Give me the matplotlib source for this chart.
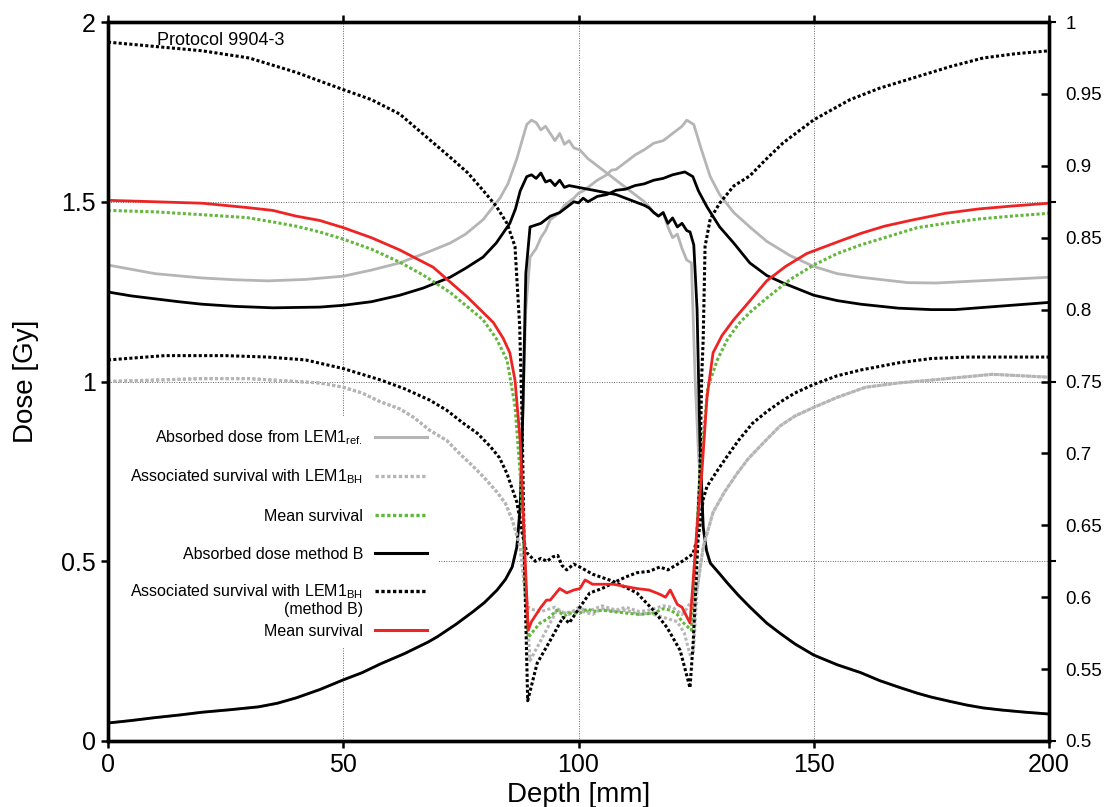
import matplotlib
matplotlib.use("Agg")
import matplotlib.pyplot as plt
from matplotlib.patches import Rectangle
from matplotlib.ticker import FixedLocator, FormatStrFormatter

plt.rcParams['font.family'] = ['Liberation Sans', 'DejaVu Sans']
plt.rcParams['mathtext.fontset'] = 'custom'
plt.rcParams['mathtext.rm'] = 'Liberation Sans'
plt.rcParams['mathtext.it'] = 'Liberation Sans:italic'

# --- absorbed dose (left axis, Gy) -------------------------------------
ref_a_x = [0, 10, 20, 27, 34, 42, 50, 56, 62, 68, 72.7, 76, 79.7, 83.3, 85, 86.9, 88, 89, 90, 91,
           92, 93, 94, 95, 96, 97, 98, 99, 100.3, 102, 104, 106, 108, 110, 112, 114, 115, 116, 117,
           118, 119, 120, 121, 122, 123, 124, 124.8, 125.5, 126.5, 127.2, 128, 130, 131.6, 134,
           136.4, 140, 142.8, 146, 150, 155, 160, 164, 168, 172, 175, 179, 182.5, 186, 190, 195,
           200]
ref_a_y = [1.324, 1.30, 1.288, 1.283, 1.28, 1.284, 1.293, 1.31, 1.33, 1.36, 1.385, 1.41, 1.45,
           1.51, 1.55, 1.62, 1.67, 1.715, 1.727, 1.72, 1.70, 1.71, 1.69, 1.67, 1.69, 1.66, 1.67,
           1.65, 1.644, 1.62, 1.60, 1.58, 1.56, 1.54, 1.52, 1.50, 1.486, 1.47, 1.46, 1.47, 1.43,
           1.40, 1.41, 1.37, 1.338, 1.33, 1.0, 0.8, 0.595, 0.53, 0.495, 0.465, 0.44, 0.405, 0.373,
           0.328, 0.30, 0.27, 0.239, 0.212, 0.19, 0.168, 0.15, 0.133, 0.122, 0.11, 0.10, 0.092,
           0.086, 0.08, 0.075]

ref_b_x = [0, 5, 10, 15, 20, 26, 32, 36, 40, 45, 50, 54, 58, 63, 68, 70, 74, 77.6, 80, 82.7, 84.5,
           85.9, 86.9, 87.6, 88.2, 88.8, 89.7, 91, 92, 93, 94, 95, 96, 97, 98, 99, 100, 101, 102,
           104, 106, 107, 108, 110, 112, 114, 116, 118, 120, 121, 122, 123, 124.5, 126, 128, 130,
           133, 136.4, 140, 145, 150, 155, 160, 170, 176, 185, 200]
ref_b_y = [0.05, 0.057, 0.065, 0.072, 0.08, 0.087, 0.095, 0.105, 0.12, 0.143, 0.17, 0.19, 0.215,
           0.243, 0.275, 0.29, 0.325, 0.36, 0.385, 0.42, 0.45, 0.484, 0.54, 0.65, 0.93, 1.2, 1.346,
           1.37, 1.40, 1.42, 1.45, 1.46, 1.47, 1.49, 1.50, 1.51, 1.524, 1.53, 1.54, 1.56, 1.575,
           1.588, 1.59, 1.61, 1.63, 1.645, 1.663, 1.67, 1.69, 1.70, 1.71, 1.727, 1.715, 1.65, 1.57,
           1.52, 1.47, 1.43, 1.39, 1.35, 1.32, 1.30, 1.29, 1.275, 1.274, 1.28, 1.29]

methb_a_x = [0, 5, 10, 15, 20, 27, 35, 45, 50, 56, 62, 67, 72.7, 76, 79.7, 82.5, 85.4, 86.6, 87.6,
             89, 90, 91, 92, 93, 94, 95, 96, 97, 98, 100, 102, 104, 106, 108, 110, 112, 114, 115,
             116, 117, 118, 119, 120, 121, 122, 123, 123.7, 124.5, 125.2, 125.8, 126.5, 127.2, 128,
             130, 131.6, 134, 136.4, 140, 142.8, 146, 150, 155, 160, 164, 168, 172, 175, 179,
             182.5, 186, 190, 195, 200]
methb_a_y = [1.249, 1.238, 1.23, 1.222, 1.215, 1.209, 1.205, 1.207, 1.212, 1.222, 1.24, 1.26, 1.29,
             1.315, 1.346, 1.385, 1.44, 1.48, 1.53, 1.57, 1.575, 1.565, 1.58, 1.555, 1.56, 1.545,
             1.56, 1.54, 1.545, 1.54, 1.535, 1.53, 1.525, 1.52, 1.51, 1.50, 1.49, 1.483, 1.47, 1.46,
             1.47, 1.44, 1.455, 1.43, 1.44, 1.42, 1.416, 1.38, 1.2, 0.837, 0.595, 0.53, 0.495,
             0.465, 0.44, 0.405, 0.373, 0.328, 0.30, 0.27, 0.239, 0.212, 0.19, 0.168, 0.15, 0.133,
             0.122, 0.11, 0.10, 0.092, 0.086, 0.08, 0.075]

methb_b_x = [0, 5, 10, 15, 20, 26, 32, 36, 40, 45, 50, 54, 58, 63, 68, 70, 74, 77.6, 80, 82.7, 84.5,
             85.9, 86.9, 87.6, 88.2, 88.8, 89.7, 92, 94, 96, 98, 99, 100, 101, 102, 104, 106, 108,
             110, 112, 114, 116, 118, 120, 122.6, 124.3, 125.5, 127.3, 130, 133, 136.4, 140, 143.5,
             150, 155, 160, 168, 175, 180, 190, 200]
methb_b_y = [0.05, 0.057, 0.065, 0.072, 0.08, 0.087, 0.095, 0.105, 0.12, 0.143, 0.17, 0.19, 0.215,
             0.243, 0.275, 0.29, 0.325, 0.36, 0.385, 0.42, 0.45, 0.484, 0.54, 0.65, 0.93, 1.3, 1.43,
             1.44, 1.46, 1.47, 1.49, 1.50, 1.497, 1.51, 1.50, 1.515, 1.52, 1.532, 1.535, 1.545, 1.55,
             1.56, 1.565, 1.575, 1.583, 1.57, 1.53, 1.486, 1.43, 1.385, 1.33, 1.295, 1.274, 1.24,
             1.225, 1.215, 1.204, 1.20, 1.20, 1.21, 1.22]

# --- survival (right axis) ---------------------------------------------
surv_bh_a_x = [0, 10, 20, 30, 40, 45, 50, 54, 57.8, 62, 65, 68.4, 72, 75, 77.6, 80, 82.7, 84.5,
               85.9, 87.6, 88.2, 89, 89.7, 92.5, 95.4, 98, 100, 102, 105, 108, 110, 113, 115, 118,
               120, 122, 123, 124.4, 125.2, 126.5, 128.6, 131, 133.7, 136, 138.6, 142.8, 146, 150,
               155, 161, 168, 175, 188, 200]
surv_bh_a_y = [0.750, 0.751, 0.752, 0.752, 0.750, 0.749, 0.746, 0.742, 0.736, 0.731, 0.725, 0.716,
               0.709, 0.699, 0.691, 0.683, 0.673, 0.665, 0.654, 0.635, 0.617, 0.593, 0.556, 0.573,
               0.591, 0.588, 0.593, 0.590, 0.594, 0.591, 0.593, 0.590, 0.591, 0.594, 0.593, 0.588,
               0.592, 0.600, 0.605, 0.635, 0.659, 0.673, 0.686, 0.696, 0.705, 0.719, 0.726, 0.732,
               0.739, 0.746, 0.749, 0.751, 0.755, 0.753]

surv_bh_b_x = [0, 10, 20, 30, 40, 45, 50, 54, 57.8, 62, 65, 68.4, 72, 75, 77.6, 80, 82.7, 84.5,
               85.9, 87.6, 88.2, 88.8, 89.5, 92, 95, 97, 100, 103, 105, 108, 110, 113, 115, 119,
               121, 122.5, 123.7, 124.4, 125.2, 126.5, 128.6, 131, 133.7, 136, 138.6, 142.8, 146,
               150, 155, 161, 168, 175, 188, 200]
surv_bh_b_y = [0.750, 0.751, 0.752, 0.752, 0.750, 0.749, 0.746, 0.742, 0.736, 0.731, 0.725, 0.716,
               0.709, 0.699, 0.691, 0.683, 0.673, 0.665, 0.654, 0.635, 0.617, 0.600, 0.592, 0.590,
               0.593, 0.589, 0.591, 0.588, 0.592, 0.590, 0.591, 0.588, 0.589, 0.585, 0.583, 0.575,
               0.560, 0.561, 0.605, 0.635, 0.659, 0.673, 0.686, 0.696, 0.705, 0.719, 0.726, 0.732,
               0.739, 0.746, 0.749, 0.751, 0.755, 0.753]

mean_ref_x = [0, 10, 20, 29.5, 35, 40, 45, 50, 56, 62, 67, 72.7, 76, 79.7, 82.5, 84.8, 86.5, 87.6,
              89.3, 91.8, 93.5, 95.4, 97, 98, 100.3, 102, 103, 105, 107.4, 110, 113, 116, 118,
              119.5, 121, 122, 124, 125.8, 127.5, 129.5, 131.6, 134, 136.4, 140, 145, 150, 155,
              160, 166, 172, 178, 185, 192, 200]
mean_ref_y = [0.869, 0.868, 0.866, 0.864, 0.861, 0.858, 0.854, 0.849, 0.842, 0.833, 0.824, 0.812,
              0.803, 0.793, 0.780, 0.765, 0.733, 0.686, 0.572, 0.582, 0.585, 0.591, 0.587, 0.589,
              0.589, 0.592, 0.590, 0.591, 0.590, 0.589, 0.588, 0.589, 0.592, 0.591, 0.588, 0.583,
              0.577, 0.686, 0.746, 0.765, 0.779, 0.790, 0.798, 0.808, 0.821, 0.831, 0.839, 0.845,
              0.851, 0.857, 0.860, 0.863, 0.865, 0.867]

surv_b_a_x = [0, 10, 20, 30, 40, 50, 56, 62, 67, 72.7, 76.5, 79.7, 82.5, 84.8, 86.5, 87.5, 88, 88.5,
              89.2, 91.2, 94, 96.7, 98, 100.3, 102.4, 105, 107.4, 110, 112.4, 115, 117.3, 119,
              121.6, 124.3, 125.2, 125.8, 126.2, 126.5, 126.9, 128, 130, 133, 136.4, 140, 143.5,
              150, 157.7, 164, 170, 179, 186, 193, 200]
surv_b_a_y = [0.986, 0.983, 0.980, 0.975, 0.965, 0.953, 0.946, 0.936, 0.922, 0.906, 0.895, 0.883,
              0.872, 0.860, 0.844, 0.788, 0.725, 0.625, 0.528, 0.554, 0.570, 0.586, 0.582, 0.593,
              0.603, 0.606, 0.610, 0.614, 0.617, 0.618, 0.621, 0.619, 0.624, 0.630, 0.640, 0.686,
              0.755, 0.779, 0.844, 0.863, 0.874, 0.886, 0.893, 0.905, 0.916, 0.932, 0.946, 0.954,
              0.960, 0.969, 0.975, 0.978, 0.980]

surv_b_b_x = [0, 12, 25, 34, 42, 50, 54, 58, 63, 68.4, 72, 75.5, 78.5, 81.2, 83.2, 84.8, 86.9, 88,
              89, 90.8, 92, 93.3, 94.5, 95.6, 96.5, 97.5, 99, 100.3, 103, 107.4, 112.4, 115.9,
              118.8, 121.6, 123.7, 124.4, 125.4, 126.5, 127.3, 129.5, 131.6, 134, 137, 140, 143,
              146, 150, 155, 160, 168, 175, 182.5, 200]
surv_b_b_y = [0.765, 0.768, 0.768, 0.767, 0.765, 0.759, 0.755, 0.751, 0.745, 0.737, 0.730, 0.721,
              0.714, 0.705, 0.697, 0.686, 0.666, 0.645, 0.631, 0.625, 0.627, 0.625, 0.628, 0.629,
              0.622, 0.619, 0.623, 0.621, 0.616, 0.611, 0.603, 0.591, 0.579, 0.563, 0.537, 0.570,
              0.640, 0.668, 0.677, 0.688, 0.698, 0.709, 0.721, 0.729, 0.736, 0.742, 0.748, 0.754,
              0.758, 0.763, 0.766, 0.767, 0.767]

mean_b_x = [0, 10, 20, 29.5, 35, 40, 45, 50, 56, 62, 69.1, 76.3, 81.9, 84, 85.4, 86.5, 87.6, 89.3,
            90, 91.2, 92, 93.2, 94, 96, 97.5, 99, 100.3, 101.4, 103, 107.4, 112.4, 115, 117.3,
            118.5, 119.5, 121, 122, 123.7, 125.2, 126.2, 127.3, 128.6, 130.5, 133, 136.4, 140,
            144, 148.5, 155, 160, 165, 170.5, 178, 185, 192, 200]
mean_b_y = [0.876, 0.875, 0.874, 0.871, 0.869, 0.865, 0.862, 0.857, 0.850, 0.8415, 0.8295, 0.809,
            0.791, 0.780, 0.770, 0.751, 0.709, 0.577, 0.583, 0.589, 0.593, 0.598, 0.598, 0.606,
            0.603, 0.605, 0.606, 0.612, 0.609, 0.609, 0.606, 0.605, 0.602, 0.600, 0.605, 0.595,
            0.593, 0.582, 0.649, 0.686, 0.739, 0.770, 0.782, 0.793, 0.806, 0.820, 0.830, 0.839,
            0.847, 0.853, 0.858, 0.862, 0.867, 0.870, 0.872, 0.874]

legend_labels = [r'Absorbed dose from LEM1$_{\mathrm{ref.}}$',
                 r'Associated survival with LEM1$_{\mathrm{BH}}$',
                 'Mean survival',
                 'Absorbed dose method B',
                 r'Associated survival with LEM1$_{\mathrm{BH}}$',
                 'Mean survival']

GRAY = '#b5b5b5'
GREEN = '#62b83c'
RED = '#ee2424'
DOT = (0, (1.0, 0.75))

fig = plt.figure(figsize=(11.09, 8.07), dpi=100)
ax = fig.add_axes([0.0974, 0.0818, 0.8485, 0.8909])
ax2 = ax.twinx()

ax.plot(ref_a_x, ref_a_y, color=GRAY, lw=2.0, zorder=2)
ax.plot(ref_b_x, ref_b_y, color=GRAY, lw=2.0, zorder=2)
ax.plot(methb_a_x, methb_a_y, color='black', lw=2.0, zorder=3)
ax.plot(methb_b_x, methb_b_y, color='black', lw=2.0, zorder=3)

ax2.plot(surv_bh_a_x, surv_bh_a_y, color=GRAY, lw=2.2, ls=DOT)
ax2.plot(surv_bh_b_x, surv_bh_b_y, color=GRAY, lw=2.2, ls=DOT)
ax2.plot(mean_ref_x, mean_ref_y, color=GREEN, lw=2.2, ls=DOT)
ax2.plot(surv_b_a_x, surv_b_a_y, color='black', lw=2.2, ls=DOT)
ax2.plot(surv_b_b_x, surv_b_b_y, color='black', lw=2.2, ls=DOT)
ax2.plot(mean_b_x, mean_b_y, color=RED, lw=2.0)

ax.set_xlim(0, 200)
ax.set_ylim(0, 2)
ax2.set_ylim(0.5, 1.0)
ax.set_xticks([0, 50, 100, 150, 200])
ax.set_yticks([0, 0.5, 1, 1.5, 2])
ax.yaxis.set_major_formatter(FormatStrFormatter('%g'))
ax2.yaxis.set_major_locator(FixedLocator([0.5 + 0.05 * i for i in range(11)]))
ax2.yaxis.set_major_formatter(FormatStrFormatter('%g'))
ax2.yaxis.set_minor_locator(FixedLocator([0.5, 0.625, 0.75, 0.875, 1.0]))
ax2.yaxis.remove_overlapping_locs = False

ax.set_axisbelow(True)
ax.grid(True, linestyle=(0, (1, 1.5)), color='#666666', lw=0.7)

ax.tick_params(axis='both', labelsize=18, direction='out', length=5, width=1.8, pad=4)
ax.tick_params(axis='x', top=True)
ax2.tick_params(axis='y', which='major', labelsize=13.5, direction='in', length=6, width=1.8, pad=12)
ax2.tick_params(axis='y', which='minor', direction='out', length=5, width=1.5)

for a in (ax, ax2):
    for s in a.spines.values():
        s.set_linewidth(2.4)

ax.set_xlabel('Depth [mm]', fontsize=20, labelpad=3)
ax.set_ylabel('Dose [Gy]', fontsize=20, labelpad=16)

ax.text(0.052, 0.975, 'Protocol 9904-3', transform=ax.transAxes, fontsize=13,
        ha='left', va='center', zorder=5)

# key with white background over the grid
ax.add_patch(Rectangle((0.0, 0.131), 0.351, 0.32, transform=ax.transAxes,
                       facecolor='white', edgecolor='none', zorder=1))
key_y = [0.4228, 0.3686, 0.3143, 0.2615, 0.2086, 0.1544]
key_style = [(GRAY, '-', 2.2), (GRAY, DOT, 2.4), (GREEN, DOT, 2.4),
             ('black', '-', 2.2), ('black', DOT, 2.4), (RED, '-', 2.2)]
for yk, lab, (c, ls, lw) in zip(key_y, legend_labels, key_style):
    ax.text(0.271, yk - 0.008, lab, transform=ax.transAxes, fontsize=11.5,
            ha='right', va='baseline', zorder=5)
    ax.plot([0.284, 0.339], [yk, yk], transform=ax.transAxes, color=c, ls=ls,
            lw=lw, zorder=5, clip_on=False)
ax.text(0.271, key_y[4] - 0.032, '(method B)', transform=ax.transAxes, fontsize=11.5,
        ha='right', va='baseline', zorder=5)

fig.savefig('out.png', dpi=100)
plt.close(fig)
